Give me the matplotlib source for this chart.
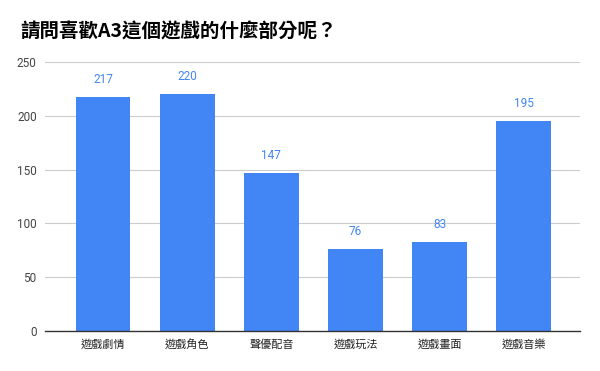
import matplotlib
matplotlib.use("Agg")
import matplotlib.pyplot as plt

categories = ["遊戲劇情", "遊戲角色", "聲優配音", "遊戲玩法", "遊戲畫面", "遊戲音樂"]
values = [217, 220, 147, 76, 83, 195]
yticks = [0, 50, 100, 150, 200, 250]
title = "請問喜歡A3這個遊戲的什麼部分呢？"

plt.rcParams['font.family'] = ['Noto Sans CJK TC', 'DejaVu Sans']

fig = plt.figure(figsize=(6, 3.71), dpi=100)
ax = fig.add_axes([0.075, 0.108, 0.892, 0.725])

x = list(range(len(categories)))
bars = ax.bar(x, values, width=0.65, color="#4285F4", zorder=3)
for xi, v in zip(x, values):
    ax.annotate(str(v), (xi, v), xytext=(0, 8), textcoords="offset points",
                ha="center", va="bottom", color="#4285F4", fontsize=8.5,
                family=['Roboto', 'DejaVu Sans'])

ax.set_xlim(-0.69, 5.67)
ax.set_ylim(0, 250)
ax.set_yticks(yticks)
ax.set_yticklabels([str(t) for t in yticks], family=['Roboto', 'DejaVu Sans'], fontsize=8.5, color="#444444")
ax.set_xticks(x)
ax.set_xticklabels(categories, fontsize=8, color="#222222")
ax.grid(axis="y", color="#cccccc", linewidth=0.8, zorder=0)
for s in ["top", "right", "left"]:
    ax.spines[s].set_visible(False)
ax.spines["bottom"].set_color("#333333")
ax.spines["bottom"].set_linewidth(1)
ax.spines["bottom"].set_zorder(4)
ax.tick_params(axis="both", length=0, pad=6)

fig.text(0.033, 0.915, title, fontsize=14, fontweight="heavy", color="#000000", va="center", ha="left")

fig.savefig("out.png", dpi=100)
